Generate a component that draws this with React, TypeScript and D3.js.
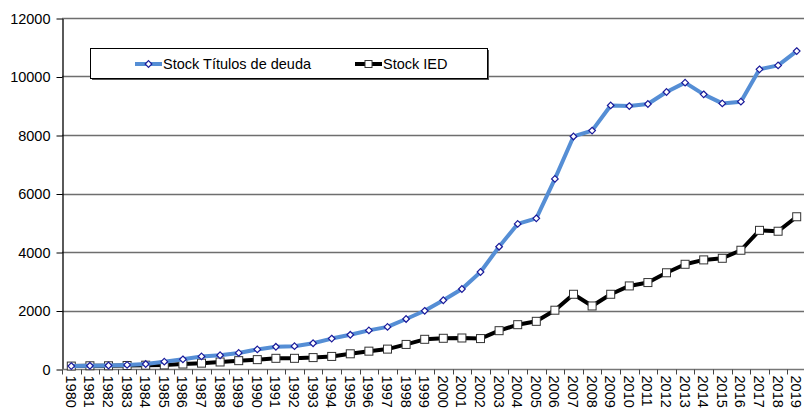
import React, { useEffect, useRef } from 'react';
import * as d3 from 'd3';

const years = d3.range(1980, 2020).map(String);

const titulos = [
  100, 110, 120, 140, 170, 250, 330, 430, 470, 550,
  670, 760, 780, 880, 1040, 1170, 1320, 1440, 1710, 1990,
  2350, 2735, 3316, 4180, 4960, 5150, 6500, 7950, 8150, 9010,
  8990, 9060, 9470, 9790, 9390, 9080, 9140, 10245, 10380, 10870,
];

const ied = [
  100, 110, 110, 120, 130, 140, 170, 200, 240, 285,
  320, 365, 365, 390, 430, 520, 610, 680, 840, 1015,
  1050, 1060, 1040, 1310, 1515, 1630, 2010, 2555, 2155, 2555,
  2840, 2955, 3290, 3580, 3730, 3785, 4060, 4740, 4710, 5205,
];

const yTicks = [0, 2000, 4000, 6000, 8000, 10000, 12000];

const App = () => {
  const ref = useRef<SVGSVGElement>(null);

  useEffect(() => {
    const width = 804;
    const height = 414;
    const left = 62;
    const right = 806;
    const top = 18;
    const bottom = 369;

    const svg = d3.select(ref.current);
    svg.selectAll('*').remove();
    svg.attr('width', width).attr('height', height);

    const x = d3.scaleBand().domain(years).range([left, right]).paddingInner(0).paddingOuter(0);
    const y = d3.scaleLinear().domain([0, 12000]).range([bottom, top]);
    const cx = (i: number) => (x(years[i]) as number) + x.bandwidth() / 2;

    // gridlines
    svg.append('g')
      .selectAll('line')
      .data(yTicks.filter(d => d > 0))
      .join('line')
      .attr('x1', left)
      .attr('x2', width)
      .attr('y1', d => Math.round(y(d)) + 0.5)
      .attr('y2', d => Math.round(y(d)) + 0.5)
      .attr('stroke', '#6e6e6e')
      .attr('stroke-width', 1.3);

    // y axis
    const yAxis = svg.append('g')
      .attr('transform', `translate(${left + 0.5},0.5)`)
      .call(d3.axisLeft(y).tickValues(yTicks).tickFormat(d3.format('d')).tickSize(6).tickSizeOuter(0).tickPadding(6));
    yAxis.select('.domain').attr('stroke', '#000').attr('stroke-width', 1.3);
    yAxis.selectAll('.tick line').attr('stroke', '#000');
    yAxis.selectAll('text')
      .attr('font-family', 'Liberation Sans, Arial, sans-serif')
      .attr('font-size', '14.5px')
      .attr('fill', '#000');

    // x axis
    const xAxis = svg.append('g')
      .attr('transform', `translate(0,${bottom + 0.5})`);
    xAxis.append('line')
      .attr('x1', left)
      .attr('x2', width)
      .attr('stroke', '#777')
      .attr('stroke-width', 1.3);
    xAxis.selectAll('line.tk')
      .data(years)
      .join('line')
      .attr('class', 'tk')
      .attr('x1', d => Math.round(x(d) as number) + 0.5)
      .attr('x2', d => Math.round(x(d) as number) + 0.5)
      .attr('y1', 0)
      .attr('y2', 5)
      .attr('stroke', '#444');
    xAxis.selectAll('text')
      .data(years)
      .join('text')
      .attr('transform', (d, i) => `translate(${cx(i) - 5.5},6) rotate(90)`)
      .attr('font-family', 'Liberation Sans, Arial, sans-serif')
      .attr('font-size', '14.5px')
      .attr('fill', '#000')
      .text(d => d);

    const line = d3.line<number>().x((d, i) => cx(i)).y(d => y(d));

    // IED series
    svg.append('path')
      .datum(ied)
      .attr('d', line)
      .attr('fill', 'none')
      .attr('stroke', '#000')
      .attr('stroke-width', 4)
      .attr('stroke-linejoin', 'round');
    svg.append('g')
      .selectAll('rect')
      .data(ied)
      .join('rect')
      .attr('x', (d, i) => cx(i) - 4)
      .attr('y', d => y(d) - 4)
      .attr('width', 8)
      .attr('height', 8)
      .attr('fill', '#fff')
      .attr('stroke', '#333')
      .attr('stroke-width', 1);

    // Titulos series
    svg.append('path')
      .datum(titulos)
      .attr('d', line)
      .attr('fill', 'none')
      .attr('stroke', '#558ed5')
      .attr('stroke-width', 4)
      .attr('stroke-linejoin', 'round');
    const diamond = d3.symbol().type(d3.symbolDiamond2).size(28);
    svg.append('g')
      .selectAll('path')
      .data(titulos)
      .join('path')
      .attr('transform', (d, i) => `translate(${cx(i)},${y(d)})`)
      .attr('d', diamond)
      .attr('fill', '#fff')
      .attr('stroke', '#1a1a9a')
      .attr('stroke-width', 1.2);

    // legend
    const lg = svg.append('g');
    lg.append('rect')
      .attr('x', 92).attr('y', 50).attr('width', 397).attr('height', 30)
      .attr('fill', '#555');
    lg.append('rect')
      .attr('x', 90.5).attr('y', 48.5).attr('width', 397).attr('height', 30)
      .attr('fill', '#fff').attr('stroke', '#000').attr('stroke-width', 1);
    const items = [
      { label: 'Stock Títulos de deuda', x0: 135, color: '#558ed5', kind: 'd' },
      { label: 'Stock IED', x0: 355, color: '#000', kind: 's' },
    ];
    items.forEach(it => {
      lg.append('line')
        .attr('x1', it.x0).attr('x2', it.x0 + 27)
        .attr('y1', 64).attr('y2', 64)
        .attr('stroke', it.color).attr('stroke-width', 4);
      if (it.kind === 'd') {
        lg.append('path')
          .attr('transform', `translate(${it.x0 + 13.5},64)`)
          .attr('d', diamond)
          .attr('fill', '#fff').attr('stroke', '#1a1a9a').attr('stroke-width', 1.2);
      } else {
        lg.append('rect')
          .attr('x', it.x0 + 10).attr('y', 60.5).attr('width', 7).attr('height', 7)
          .attr('fill', '#fff').attr('stroke', '#333');
      }
      lg.append('text')
        .attr('x', it.x0 + 28).attr('y', 69)
        .attr('font-family', 'Liberation Sans, Arial, sans-serif')
        .attr('font-size', '14.5px')
        .attr('fill', '#000')
        .text(it.label);
    });
  }, []);

  return (
    <svg ref={ref} style={{ position: 'absolute', left: 0, top: 0, display: 'block', background: '#fff' }} />
  );
};

export default App;
